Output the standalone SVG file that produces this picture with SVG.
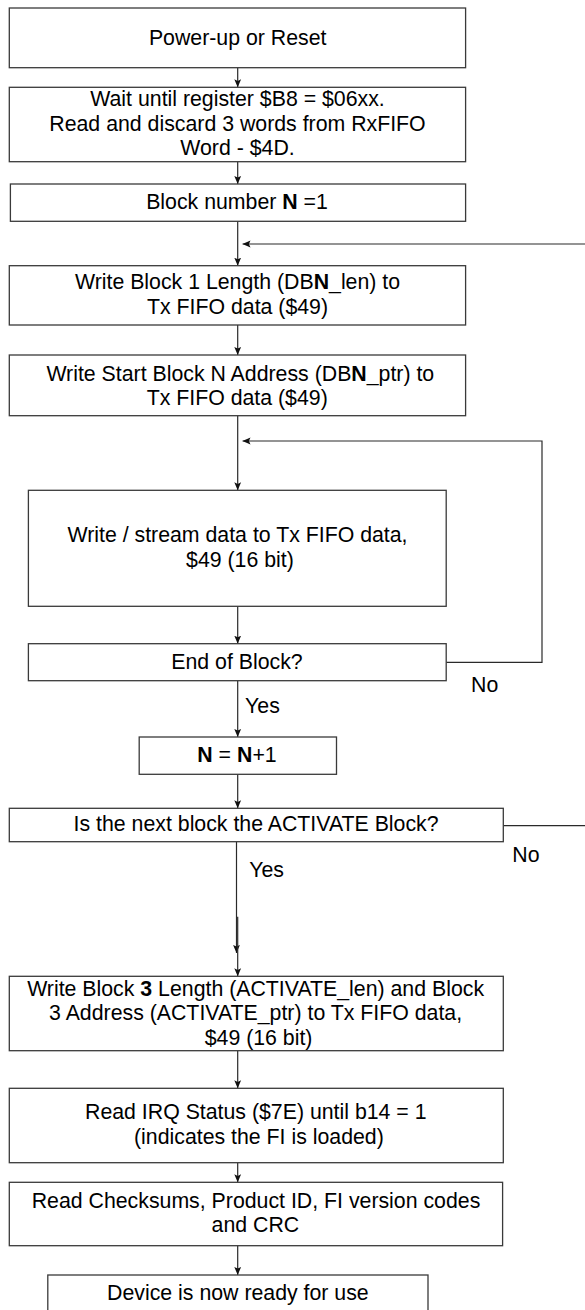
<svg xmlns="http://www.w3.org/2000/svg" width="585" height="1310" viewBox="0 0 585 1310">
<defs>
<style>
.box{fill:#fff;stroke:#3a3a3a;stroke-width:1.3}
.ln{fill:none;stroke:#2a2a2a;stroke-width:1.2}
.ar{marker-end:url(#ah)}
text{font-family:"Liberation Sans",Arial,sans-serif;font-size:21.3px;fill:#000}
.c{text-anchor:middle}
.b{font-weight:bold}
</style>
<marker id="ah" viewBox="0 0 8 8" refX="8" refY="4" markerWidth="8" markerHeight="8" orient="auto" markerUnits="userSpaceOnUse">
<path d="M0,0.6 L8,4 L0,7.4 L1.6,4 z" fill="#111"/>
</marker>
</defs>
<rect width="585" height="1310" fill="#fff"/>
<g id="connectors">
<path class="ln ar" d="M237.7,67.7 V87.3"/>
<path class="ln ar" d="M237.7,161.7 V184"/>
<path class="ln ar" d="M237.7,221.3 V265.7"/>
<path class="ln ar" d="M585,244 H242.5"/>
<path class="ln ar" d="M237.7,325 V355"/>
<path class="ln ar" d="M237.7,415.7 V490.3"/>
<path class="ln ar" d="M446.2,662.3 H542 V441 H242.5"/>
<path class="ln ar" d="M237.7,606.3 V643.7"/>
<path class="ln ar" d="M237.7,680.7 V737"/>
<path class="ln ar" d="M237.7,774.3 V808.3"/>
<path class="ln" d="M503.3,825.7 H585"/>
<path class="ln ar" d="M236.5,841.7 V953"/>
<path class="ln ar" d="M237.7,916.7 V976.3"/>
<path class="ln ar" d="M237.7,1050.7 V1088.3"/>
<path class="ln ar" d="M237.7,1162.7 V1182.3"/>
<path class="ln ar" d="M237.7,1245.7 V1275"/>
<text x="245.1" y="713.3">Yes</text>
<text x="471" y="691.5">No</text>
<text x="512.3" y="862.3">No</text>
<text x="249.2" y="877.3">Yes</text>
</g>
<g id="n1"><rect class="box" x="9.3" y="8" width="456.3" height="59.7"/>
<text class="c" x="237.7" y="45">Power-up or Reset</text></g>
<g id="n2"><rect class="box" x="9.3" y="87.3" width="456.3" height="74.4"/>
<text class="c" x="237.5" y="106">Wait until register $B8 = $06xx.</text>
<text class="c" x="237.5" y="130.7">Read and discard 3 words from RxFIFO</text>
<text class="c" x="237.5" y="155.4">Word - $4D.</text></g>
<g id="n3"><rect class="box" x="10.4" y="184" width="455.2" height="37.3"/>
<text class="c" x="237" y="209">Block number <tspan class="b">N</tspan> =1</text></g>
<g id="n4"><rect class="box" x="9.3" y="265.7" width="456.3" height="59.3"/>
<text class="c" x="237.5" y="288.5">Write Block 1 Length (DB<tspan class="b">N</tspan>_len) to</text>
<text class="c" x="237.5" y="313.5">Tx FIFO data ($49)</text></g>
<g id="n5"><rect class="box" x="9.3" y="355" width="456.3" height="60.7"/>
<text class="c" x="240.3" y="380.7">Write Start Block N Address (DB<tspan class="b">N</tspan>_ptr) to</text>
<text class="c" x="237.2" y="405.3">Tx FIFO data ($49)</text></g>
<g id="n6"><rect class="box" x="28.4" y="490.3" width="417.8" height="116"/>
<text class="c" x="237.5" y="542.3">Write / stream data to Tx FIFO data,</text>
<text class="c" x="239.9" y="567.3">$49 (16 bit)</text></g>
<g id="n7"><rect class="box" x="28.4" y="643.7" width="417.8" height="37"/>
<text class="c" x="237" y="669">End of Block?</text></g>
<g id="n8"><rect class="box" x="139.2" y="737" width="197.3" height="37.3"/>
<text class="c" x="237" y="762"><tspan class="b">N</tspan> = <tspan class="b">N</tspan>+1</text></g>
<g id="n9"><rect class="box" x="9.3" y="808.3" width="494" height="33.4"/>
<text class="c" x="256.1" y="831.3">Is the next block the ACTIVATE Block?</text></g>
<g id="n10"><rect class="box" x="9.3" y="976.3" width="494" height="74.4"/>
<text class="c" x="255.6" y="995.5">Write Block <tspan class="b">3</tspan> Length (ACTIVATE_len) and Block</text>
<text class="c" x="255.6" y="1020.3">3 Address (ACTIVATE_ptr) to Tx FIFO data,</text>
<text class="c" x="258.6" y="1045">$49 (16 bit)</text></g>
<g id="n11"><rect class="box" x="9.3" y="1088.3" width="494" height="74.4"/>
<text class="c" x="255.8" y="1119.3">Read IRQ Status ($7E) until b14 = 1</text>
<text class="c" x="258.9" y="1144.2">(indicates the FI is loaded)</text></g>
<g id="n12"><rect class="box" x="9.3" y="1182.3" width="493.3" height="63.4"/>
<text class="c" x="256" y="1207.7">Read Checksums, Product ID, FI version codes</text>
<text class="c" x="255.4" y="1232.3">and CRC</text></g>
<g id="n13"><rect class="box" x="47.8" y="1275" width="380.2" height="50"/>
<text class="c" x="237.9" y="1300">Device is now ready for use</text></g>
</svg>
